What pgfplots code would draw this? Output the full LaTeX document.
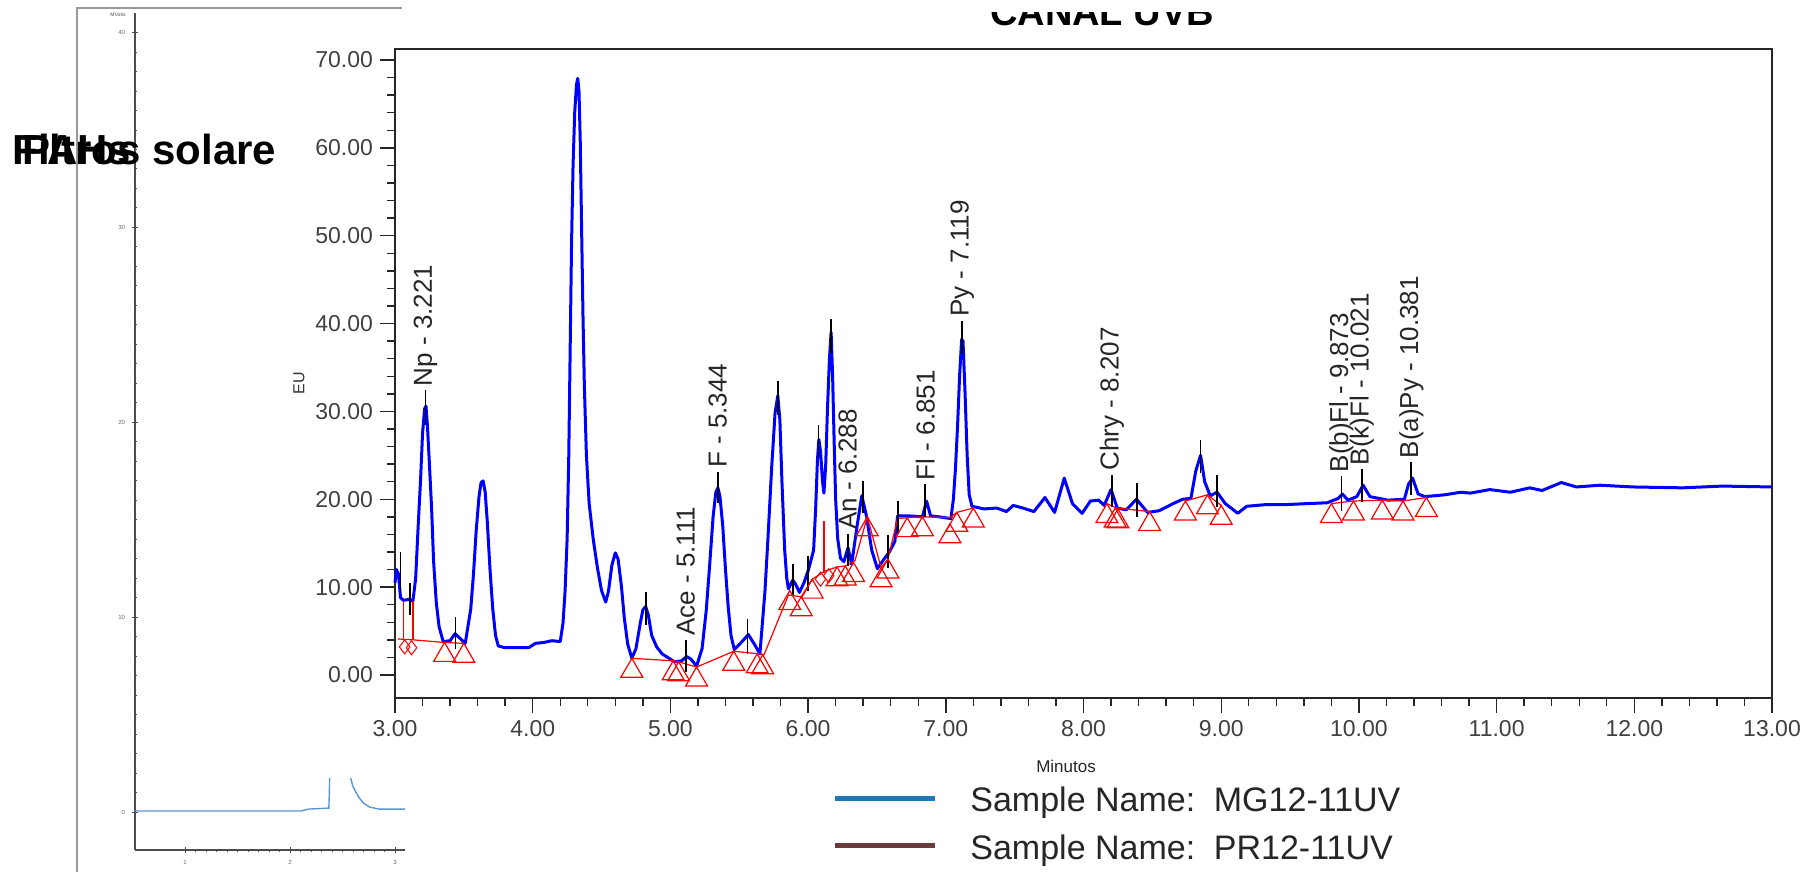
\documentclass[border=0pt]{standalone}
\usepackage{pgfplots}
\pgfplotsset{compat=1.18}
\usepackage{fontspec}
\setmainfont{Liberation Sans}
\definecolor{legblue}{RGB}{31,119,180}
\definecolor{legbrown}{RGB}{107,59,59}
\definecolor{panelblue}{RGB}{90,150,210}
\begin{document}
\begin{tikzpicture}
\path[use as bounding box] (0pt,0pt) rectangle (909.5pt,436pt);
% ---- left background panel ----
\begin{scope}[x=0.5pt,y=0.5pt]
\draw[black!40, line width=1pt] (77,0) -- (77,864) -- (402,864);
\end{scope}
\begin{axis}[at={(67.5pt,11pt)}, anchor=south west, scale only axis,
  width=136.5pt, height=418.5pt,
  xmin=0.524, xmax=3.124, ymin=-1.95, ymax=41,
  axis x line=bottom, axis y line=left,
  axis line style={-, black!70, line width=0.6pt},
  xtick={1,2,3}, ytick={0,10,20,30,40},
  minor x tick num=9, minor y tick num=9,
  tick style={black!70, line width=0.4pt},
  major tick length=3pt, minor tick length=1.5pt,
  ticklabel style={font=\fontsize{3}{3}\selectfont, text=black!60},
  xticklabel={\pgfmathprintnumber[assume math mode=true]{\tick}},
  yticklabel={\pgfmathprintnumber[assume math mode=true]{\tick}}]
\addplot[panelblue, line width=0.7pt] coordinates {
(0.524,0.05) (2.10,0.05) (2.18,0.15) (2.37,0.2) (2.375,1.0) (2.385,4) (2.40,10)
(2.48,15) (2.55,5) (2.57,1.9) (2.60,1.3) (2.65,0.8) (2.70,0.45) (2.76,0.25)
(2.85,0.15) (3.124,0.15)};
\end{axis}
\begin{scope}[x=0.5pt,y=0.5pt]
\node[font=\fontsize{2.5}{2.5}\selectfont, text=black!70] at (118,857) {MVolts};
% ---- white overlay of the main chart ----
\fill[white] (405,0) rectangle (1819,872);
\fill[white] (300,94) rectangle (405,860);
\end{scope}
% ---- main chart ----
\begin{axis}[at={(197.5pt,87pt)}, anchor=south west, scale only axis,
  width=688.5pt, height=324.5pt,
  xmin=3, xmax=13, ymin=-2.62, ymax=71.25,
  xtick={3,4,...,13}, ytick={0,10,...,70},
  minor x tick num=4, minor y tick num=4,
  xtick pos=bottom, ytick pos=left, tick align=outside,
  major tick length=7.5pt, minor tick length=4pt,
  axis line style={black!85, line width=0.8pt},
  tick style={black!85, line width=0.7pt},
  ticklabel style={font=\fontsize{11.5}{12}\selectfont, text=black!75},
  xticklabel={\pgfmathprintnumber[fixed,fixed zerofill,precision=2,assume math mode=true]{\tick}},
  yticklabel={\pgfmathprintnumber[fixed,fixed zerofill,precision=2,assume math mode=true]{\tick}},
  clip=false, unbounded coords=jump]
\addplot[blue, line width=1.5pt, line join=round] coordinates {
(3.00,10.5) (3.01,12.0) (3.025,11.5) (3.04,8.8) (3.06,8.5) (3.10,8.6) (3.13,8.4)
(3.15,11.0) (3.17,17.5) (3.185,22.0) (3.20,27.5) (3.215,30.3) (3.225,30.6)
(3.235,28.5) (3.25,24.0) (3.266,18.9) (3.28,13.0) (3.30,8.2) (3.32,5.5) (3.35,3.8)
(3.40,3.9) (3.436,4.7) (3.47,4.2) (3.51,3.6) (3.55,7.5) (3.57,11.5) (3.59,16.5)
(3.61,20.3) (3.625,21.9) (3.64,22.1) (3.655,20.8) (3.67,17.5) (3.69,12.0)
(3.71,7.5) (3.73,4.5) (3.75,3.3) (3.80,3.1) (3.90,3.1) (3.97,3.1) (4.00,3.4)
(4.02,3.6) (4.08,3.7) (4.14,3.9) (4.20,3.8) (4.22,5.9) (4.235,9.5) (4.25,15.5)
(4.262,25.0) (4.272,37.0) (4.282,49.0) (4.293,58.0) (4.305,64.0) (4.318,67.2)
(4.327,67.9) (4.336,66.5) (4.345,61.0) (4.355,51.0) (4.365,41.0) (4.375,33.0)
(4.39,25.0) (4.41,19.5) (4.44,15.4) (4.47,12.2) (4.50,9.6) (4.53,8.3) (4.55,9.5)
(4.575,12.5) (4.60,13.9) (4.62,13.2) (4.645,10.0) (4.665,6.5) (4.69,3.5)
(4.72,1.9) (4.75,3.0) (4.78,5.8) (4.80,7.4) (4.82,7.8) (4.84,6.8) (4.864,4.5)
(4.90,3.2) (4.94,2.4) (5.03,1.5) (5.08,1.6) (5.118,2.1) (5.15,1.8) (5.19,1.0)
(5.23,3.0) (5.26,7.3) (5.285,12.5) (5.31,18.0) (5.33,20.8) (5.345,21.3)
(5.36,20.3) (5.38,17.0) (5.40,12.0) (5.42,7.7) (5.44,4.5) (5.464,2.9) (5.52,3.8)
(5.566,4.6) (5.61,3.5) (5.65,2.4) (5.687,9.6) (5.71,16.0) (5.735,23.5)
(5.76,29.8) (5.78,31.8) (5.795,29.0) (5.81,22.0) (5.83,14.2) (5.845,11.0)
(5.857,9.8) (5.889,10.8) (5.91,10.3) (5.937,9.4) (5.97,10.5) (6.003,12.0)
(6.04,14.2) (6.055,19.0) (6.068,24.5) (6.078,26.8) (6.09,25.5) (6.105,22.0)
(6.115,20.7) (6.128,24.0) (6.14,30.0) (6.155,36.0) (6.167,39.0) (6.178,34.0)
(6.19,26.0) (6.20,20.0) (6.215,15.5) (6.235,13.3) (6.26,12.9) (6.29,14.5)
(6.316,12.6) (6.357,17.1) (6.39,20.4) (6.425,18.0) (6.462,14.2) (6.503,12.1)
(6.547,13.1) (6.59,14.0) (6.63,15.2) (6.65,18.1) (6.74,18.1) (6.83,18.0)
(6.86,19.8) (6.89,18.1) (6.95,18.0) (7.037,17.8) (7.055,20.0) (7.07,23.5)
(7.085,28.2) (7.10,34.0) (7.115,38.2) (7.125,38.0) (7.14,32.0) (7.155,25.0)
(7.17,20.5) (7.19,19.2) (7.277,18.9) (7.37,19.0) (7.44,18.6)
(7.49,19.3) (7.56,19.0) (7.64,18.6) (7.72,20.2) (7.79,18.5) (7.86,22.4)
(7.92,19.5) (7.99,18.4) (8.05,19.8) (8.11,19.9) (8.15,19.3) (8.20,21.1)
(8.245,19.0) (8.31,18.8) (8.385,20.0) (8.465,18.5) (8.55,18.7) (8.65,19.5)
(8.72,20.0) (8.78,20.1) (8.815,23.2) (8.85,25.0) (8.88,22.0) (8.92,20.4)
(8.97,20.8) (9.03,19.5) (9.08,18.9) (9.12,18.4) (9.185,19.2) (9.33,19.4)
(9.48,19.4) (9.62,19.5) (9.77,19.6) (9.85,20.1) (9.88,20.6) (9.92,19.9)
(9.985,20.3) (10.03,21.6) (10.08,20.3) (10.21,19.9) (10.33,20.0) (10.36,21.7)
(10.39,22.4) (10.43,20.6) (10.48,20.3) (10.62,20.5) (10.74,20.8) (10.81,20.7)
(10.95,21.1) (11.10,20.8) (11.24,21.3) (11.33,21.0) (11.47,21.9) (11.58,21.4)
(11.75,21.6) (11.99,21.4) (12.35,21.3) (12.64,21.5) (13.00,21.4)};
% red baselines
\addplot[red, line width=0.6pt] coordinates {(3.02,4.1) (3.13,4.0) (3.36,3.7) (3.50,3.6)};
\addplot[red, line width=0.6pt] coordinates {(4.72,1.9) (5.03,1.6) (5.06,1.5) (5.19,0.9) (5.46,2.7) (5.65,2.4) (5.68,2.3) (5.857,9.1) (5.95,8.9) (6.03,10.9) (6.12,11.8) (6.21,12.3) (6.27,12.4) (6.34,13.0) (6.43,18.0) (6.53,12.2) (6.58,13.2) (6.65,17.8) (6.72,17.9) (6.83,18.0) (7.03,17.9) (7.08,18.5) (7.20,19.0)};
\addplot[red, line width=0.6pt] coordinates {(8.17,19.5) (8.24,19.0) (8.48,18.6)};
\addplot[red, line width=0.6pt] coordinates {(8.74,19.8) (8.90,20.5) (9.00,19.3)};
\addplot[red, line width=0.6pt] coordinates {(9.80,19.5) (9.96,19.8) (10.17,19.9) (10.32,19.8) (10.49,20.2)};
% red drop lines
\addplot[red, line width=0.6pt] coordinates {(3.06,8.4) (3.06,4.1) (3.06,nan) (3.13,8.4) (3.13,4.0) (3.13,nan) (6.115,17.5) (6.115,11.6)};
% triangles
\addplot[only marks, red, mark=triangle, mark size=6.3pt, mark options={line width=0.6pt, yshift=-6.3pt}] coordinates {
(3.36,3.7) (3.50,3.6) (4.72,1.9) (5.02,1.6) (5.06,1.5) (5.19,0.9) (5.46,2.7) (5.63,2.4) (5.67,2.3)
(5.867,9.6) (5.95,8.9) (6.03,10.9) (6.21,12.3) (6.27,12.4) (6.33,12.8) (6.43,18.0) (6.53,12.2) (6.58,13.2)
(6.72,17.9) (6.83,18.0) (7.03,17.2) (7.08,18.5) (7.20,19.0)
(8.17,19.5) (8.23,19.0) (8.25,18.9) (8.48,18.6)
(8.74,19.8) (8.90,20.5) (9.00,19.3)
(9.80,19.5) (9.96,19.8) (10.17,19.9) (10.32,19.8) (10.49,20.2)};
% diamonds
\addplot[only marks, red, mark=diamond, mark size=3.5pt, mark options={line width=0.5pt}] coordinates {
(3.07,3.2) (3.12,3.1) (6.09,10.9) (6.15,11.3)};
% black peak markers
\addplot[black, line width=0.9pt] coordinates {
(3.04,9.4) (3.04,14.0) (3.04,nan)
(3.11,6.8) (3.11,10.5) (3.11,nan)
(3.221,28.4) (3.221,32.4) (3.221,nan)
(3.44,2.9) (3.44,6.6) (3.44,nan)
(4.82,5.7) (4.82,9.4) (4.82,nan)
(5.111,0.3) (5.111,4.0) (5.111,nan)
(5.344,19.6) (5.344,23.1) (5.344,nan)
(5.56,2.4) (5.56,6.4) (5.56,nan)
(5.78,29.6) (5.78,33.5) (5.78,nan)
(5.89,9.1) (5.89,12.6) (5.89,nan)
(6.00,9.6) (6.00,13.5) (6.00,nan)
(6.075,24.7) (6.075,28.4) (6.075,nan)
(6.165,36.6) (6.165,40.5) (6.165,nan)
(6.288,12.4) (6.288,16.1) (6.288,nan)
(6.40,18.4) (6.40,22.1) (6.40,nan)
(6.58,12.2) (6.58,15.9) (6.58,nan)
(6.65,16.1) (6.65,19.8) (6.65,nan)
(6.851,18.0) (6.851,21.7) (6.851,nan)
(7.119,36.5) (7.119,40.3) (7.119,nan)
(8.207,19.1) (8.207,22.8) (8.207,nan)
(8.39,18.0) (8.39,21.9) (8.39,nan)
(8.85,23.0) (8.85,26.8) (8.85,nan)
(8.97,19.1) (8.97,22.8) (8.97,nan)
(9.873,18.7) (9.873,22.6) (9.873,nan)
(10.021,19.7) (10.021,23.4) (10.021,nan)
(10.381,20.5) (10.381,24.2)};
% peak labels
\node[rotate=90, anchor=west, inner sep=1pt, font=\fontsize{13}{13}\selectfont, text=black!85] at (axis cs:3.221,32.6) {Np - 3.221};
\node[rotate=90, anchor=west, inner sep=1pt, font=\fontsize{13}{13}\selectfont, text=black!85] at (axis cs:5.111,4.2) {Ace - 5.111};
\node[rotate=90, anchor=west, inner sep=1pt, font=\fontsize{13}{13}\selectfont, text=black!85] at (axis cs:5.344,23.3) {F - 5.344};
\node[rotate=90, anchor=west, inner sep=1pt, font=\fontsize{13}{13}\selectfont, text=black!85] at (axis cs:6.288,16.3) {An - 6.288};
\node[rotate=90, anchor=west, inner sep=1pt, font=\fontsize{13}{13}\selectfont, text=black!85] at (axis cs:6.851,21.9) {Fl - 6.851};
\node[rotate=90, anchor=west, inner sep=1pt, font=\fontsize{13}{13}\selectfont, text=black!85] at (axis cs:7.119,40.5) {Py - 7.119};
\node[rotate=90, anchor=west, inner sep=1pt, font=\fontsize{13}{13}\selectfont, text=black!85] at (axis cs:8.207,23.0) {Chry - 8.207};
\node[rotate=90, anchor=west, inner sep=1pt, font=\fontsize{13}{13}\selectfont, text=black!85] at (axis cs:9.873,22.8) {B(b)Fl - 9.873};
\node[rotate=90, anchor=west, inner sep=1pt, font=\fontsize{13}{13}\selectfont, text=black!85] at (axis cs:10.021,23.6) {B(k)Fl - 10.021};
\node[rotate=90, anchor=west, inner sep=1pt, font=\fontsize{13}{13}\selectfont, text=black!85] at (axis cs:10.381,24.4) {B(a)Py - 10.381};
\end{axis}
\begin{scope}[x=0.5pt,y=0.5pt]
% axis titles
\node[rotate=90, font=\fontsize{8}{8}\selectfont, text=black!80] at (299,489) {EU};
\node[font=\fontsize{8.5}{9}\selectfont, text=black!85] at (1066,106) {Minutos};
% legend
\draw[legblue, line width=2.5pt] (835,73) -- (935,73);
\draw[legbrown, line width=2.5pt] (835,26) -- (935,26);
\node[anchor=base west, inner sep=0pt, font=\fontsize{17}{17}\selectfont, text=black!85] at (970,60) {Sample Name:\hspace{0.55em}MG12-11UV};
\node[anchor=base west, inner sep=0pt, font=\fontsize{17}{17}\selectfont, text=black!85] at (970,12) {Sample Name:\hspace{0.55em}PR12-11UV};
% title (cut at top)
\node[anchor=base, inner sep=0pt, font=\bfseries\fontsize{19}{19}\selectfont] at (1102,846) {CANAL UVB};
\fill[white] (950,860) rectangle (1260,880);
% overlapping side texts
\node[anchor=base west, inner sep=0pt, font=\bfseries\fontsize{21}{21}\selectfont] at (12,707) {Filtros solare};
\node[anchor=base west, inner sep=0pt, font=\bfseries\fontsize{21}{21}\selectfont] at (22,707) {PAHs};
\end{scope}
\end{tikzpicture}
\end{document}
